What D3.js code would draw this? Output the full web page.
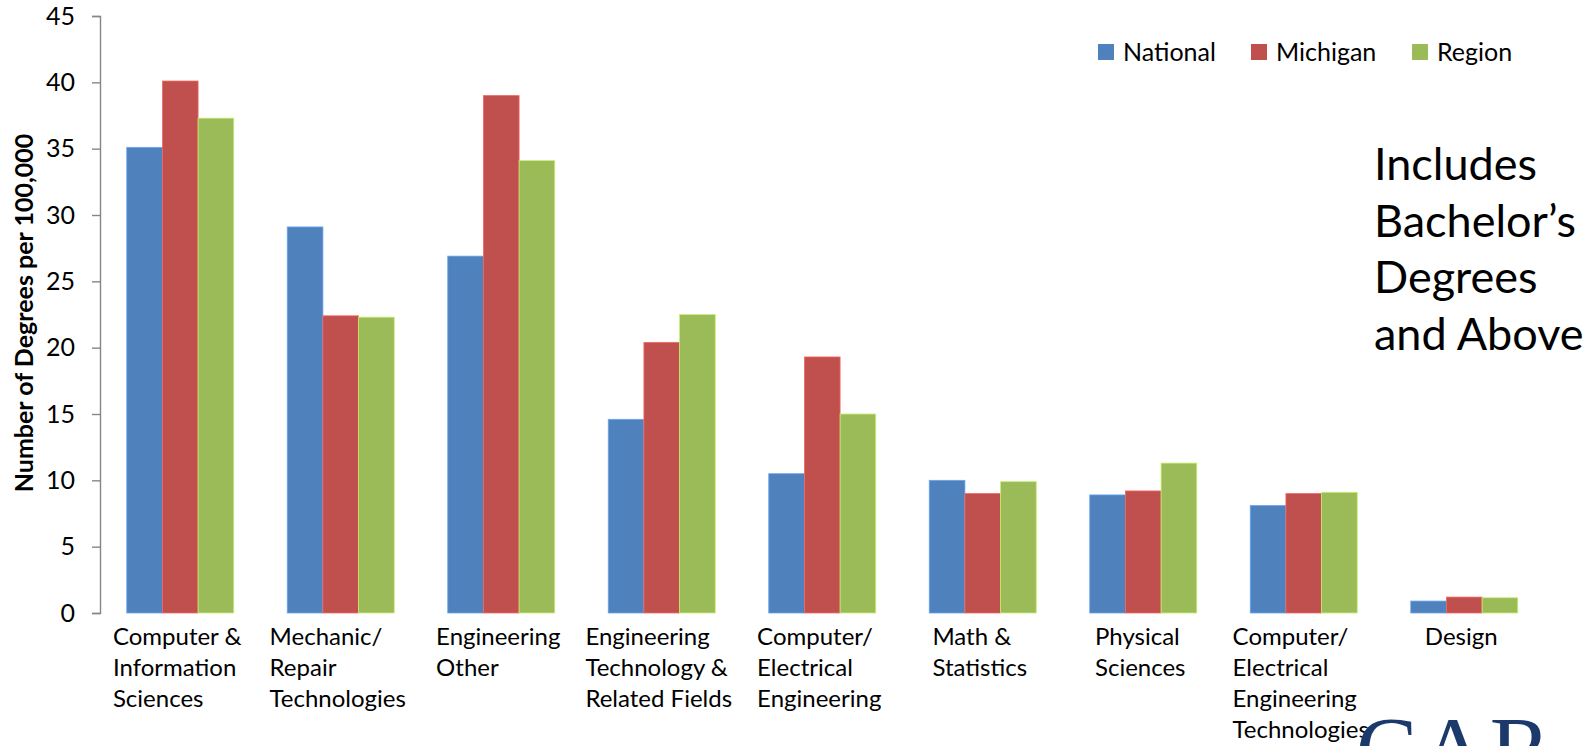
<!DOCTYPE html>
<html>
<head>
<meta charset="utf-8">
<script src="https://cdn.jsdelivr.net/npm/d3@7"></script>
<style>
  html, body { margin: 0; padding: 0; background: #fff; }
  svg { display: block; }
  text { font-family: Lato, "Noto Sans", sans-serif; fill: #000; }
</style>
</head>
<body>
<svg id="chart" width="1589" height="746"></svg>
<script>
// Degrees per 100,000 population, by field of study
const categories = [
  "Computer & Information Sciences",
  "Mechanic/Repair Technologies",
  "Engineering Other",
  "Engineering Technology & Related Fields",
  "Computer/Electrical Engineering",
  "Math & Statistics",
  "Physical Sciences",
  "Computer/Electrical Engineering Technologies",
  "Design"
];
const categoryLines = [
  ["Computer &", "Information", "Sciences"],
  ["Mechanic/", "Repair", "Technologies"],
  ["Engineering", "Other"],
  ["Engineering", "Technology &", "Related Fields"],
  ["Computer/", "Electrical", "Engineering"],
  ["Math &", "Statistics"],
  ["Physical", "Sciences"],
  ["Computer/", "Electrical", "Engineering", "Technologies"],
  ["Design"]
];
const seriesNames = ["National", "Michigan", "Region"];
const national = [35.1, 29.1, 26.9, 14.6, 10.5, 10.0, 8.9, 8.1, 0.9];
const michigan = [40.1, 22.4, 39.0, 20.4, 19.3, 9.0, 9.2, 9.0, 1.2];
const region   = [37.3, 22.3, 34.1, 22.5, 15.0, 9.9, 11.3, 9.1, 1.15];
const yTicks = [0, 5, 10, 15, 20, 25, 30, 35, 40, 45];
const colors = ["#4F81BD", "#C0504D", "#9BBB59"];
const yTitle = "Number of Degrees per 100,000";
const noteLines = ["Includes", "Bachelor\u2019s", "Degrees", "and Above"];

const seriesValues = [national, michigan, region];
const svg = d3.select("#chart");

const x = d3.scaleBand()
  .domain(categories)
  .range([100, 1544.5])
  .paddingInner(1 / 3)
  .paddingOuter(1 / 6);

const xs = d3.scaleBand()
  .domain(seriesNames)
  .range([0, x.bandwidth()]);

const y = d3.scaleLinear().domain([0, 45]).range([613, 16]);

// bars
const groups = svg.append("g").selectAll("g")
  .data(categories)
  .join("g")
  .attr("transform", d => `translate(${x(d)},0)`);

groups.selectAll("rect")
  .data((d, i) => seriesNames.map((s, j) => ({ s, v: seriesValues[j][i], c: colors[j] })))
  .join("rect")
  .attr("x", d => xs(d.s))
  .attr("width", xs.bandwidth())
  .attr("y", d => y(d.v))
  .attr("height", d => y(0) - y(d.v))
  .attr("fill", d => d.c)
  .attr("stroke", d => d3.color(d.c).brighter(0.7))
  .attr("stroke-width", 0.8);

// y axis
const yAxis = svg.append("g")
  .attr("transform", "translate(100,0)")
  .call(d3.axisLeft(y).tickValues(yTicks).tickSize(8).tickPadding(17).tickFormat(d3.format("d")));
yAxis.select(".domain").attr("stroke", "#868686").attr("stroke-width", 1.4);
yAxis.selectAll(".tick line").attr("stroke", "#868686").attr("stroke-width", 1.4);
yAxis.selectAll(".tick text")
  .attr("font-size", 25)
  .attr("fill", "#000");

// y axis title
svg.append("text")
  .attr("transform", "translate(33,313) rotate(-90)")
  .attr("text-anchor", "middle")
  .attr("font-size", 25)
  .attr("font-weight", "bold")
  .text(yTitle);

// category labels: left-aligned lines, block centred under each group
const lineH = 31.3;
const labels = svg.append("g").selectAll("text")
  .data(categories)
  .join("text")
  .attr("font-size", 24);

labels.each(function (d, i) {
  const t = d3.select(this);
  categoryLines[i].forEach((ln, k) => {
    t.append("tspan").attr("x", 0).attr("y", 644.5 + k * lineH).text(ln);
  });
  const w = this.getBBox().width;
  const x0 = x(d) + x.bandwidth() / 2 - w / 2 - 3;
  t.selectAll("tspan").attr("x", x0);
});

// legend
const legend = svg.append("g").selectAll("g")
  .data(seriesNames)
  .join("g")
  .attr("transform", (d, i) => `translate(${[1098, 1251, 1412][i]},44)`);
legend.append("rect")
  .attr("width", 16).attr("height", 16)
  .attr("fill", (d, i) => colors[i]);
legend.append("text")
  .attr("x", 25).attr("y", 16.5)
  .attr("font-size", 25)
  .text(d => d);

// side note
svg.append("text")
  .attr("font-size", 45)
  .selectAll("tspan")
  .data(noteLines)
  .join("tspan")
  .attr("x", 1374)
  .attr("y", (d, i) => 180 + i * 56.7)
  .text(d => d);

// organisation mark, cut by the page edge
svg.append("text")
  .attr("x", 1356)
  .attr("y", 780)
  .attr("font-size", 92)
  .attr("letter-spacing", 3)
  .style("font-family", "'Liberation Serif', 'DejaVu Serif', serif")
  .style("fill", "#1B3A6B")
  .text("CAR");
</script>
</body>
</html>
